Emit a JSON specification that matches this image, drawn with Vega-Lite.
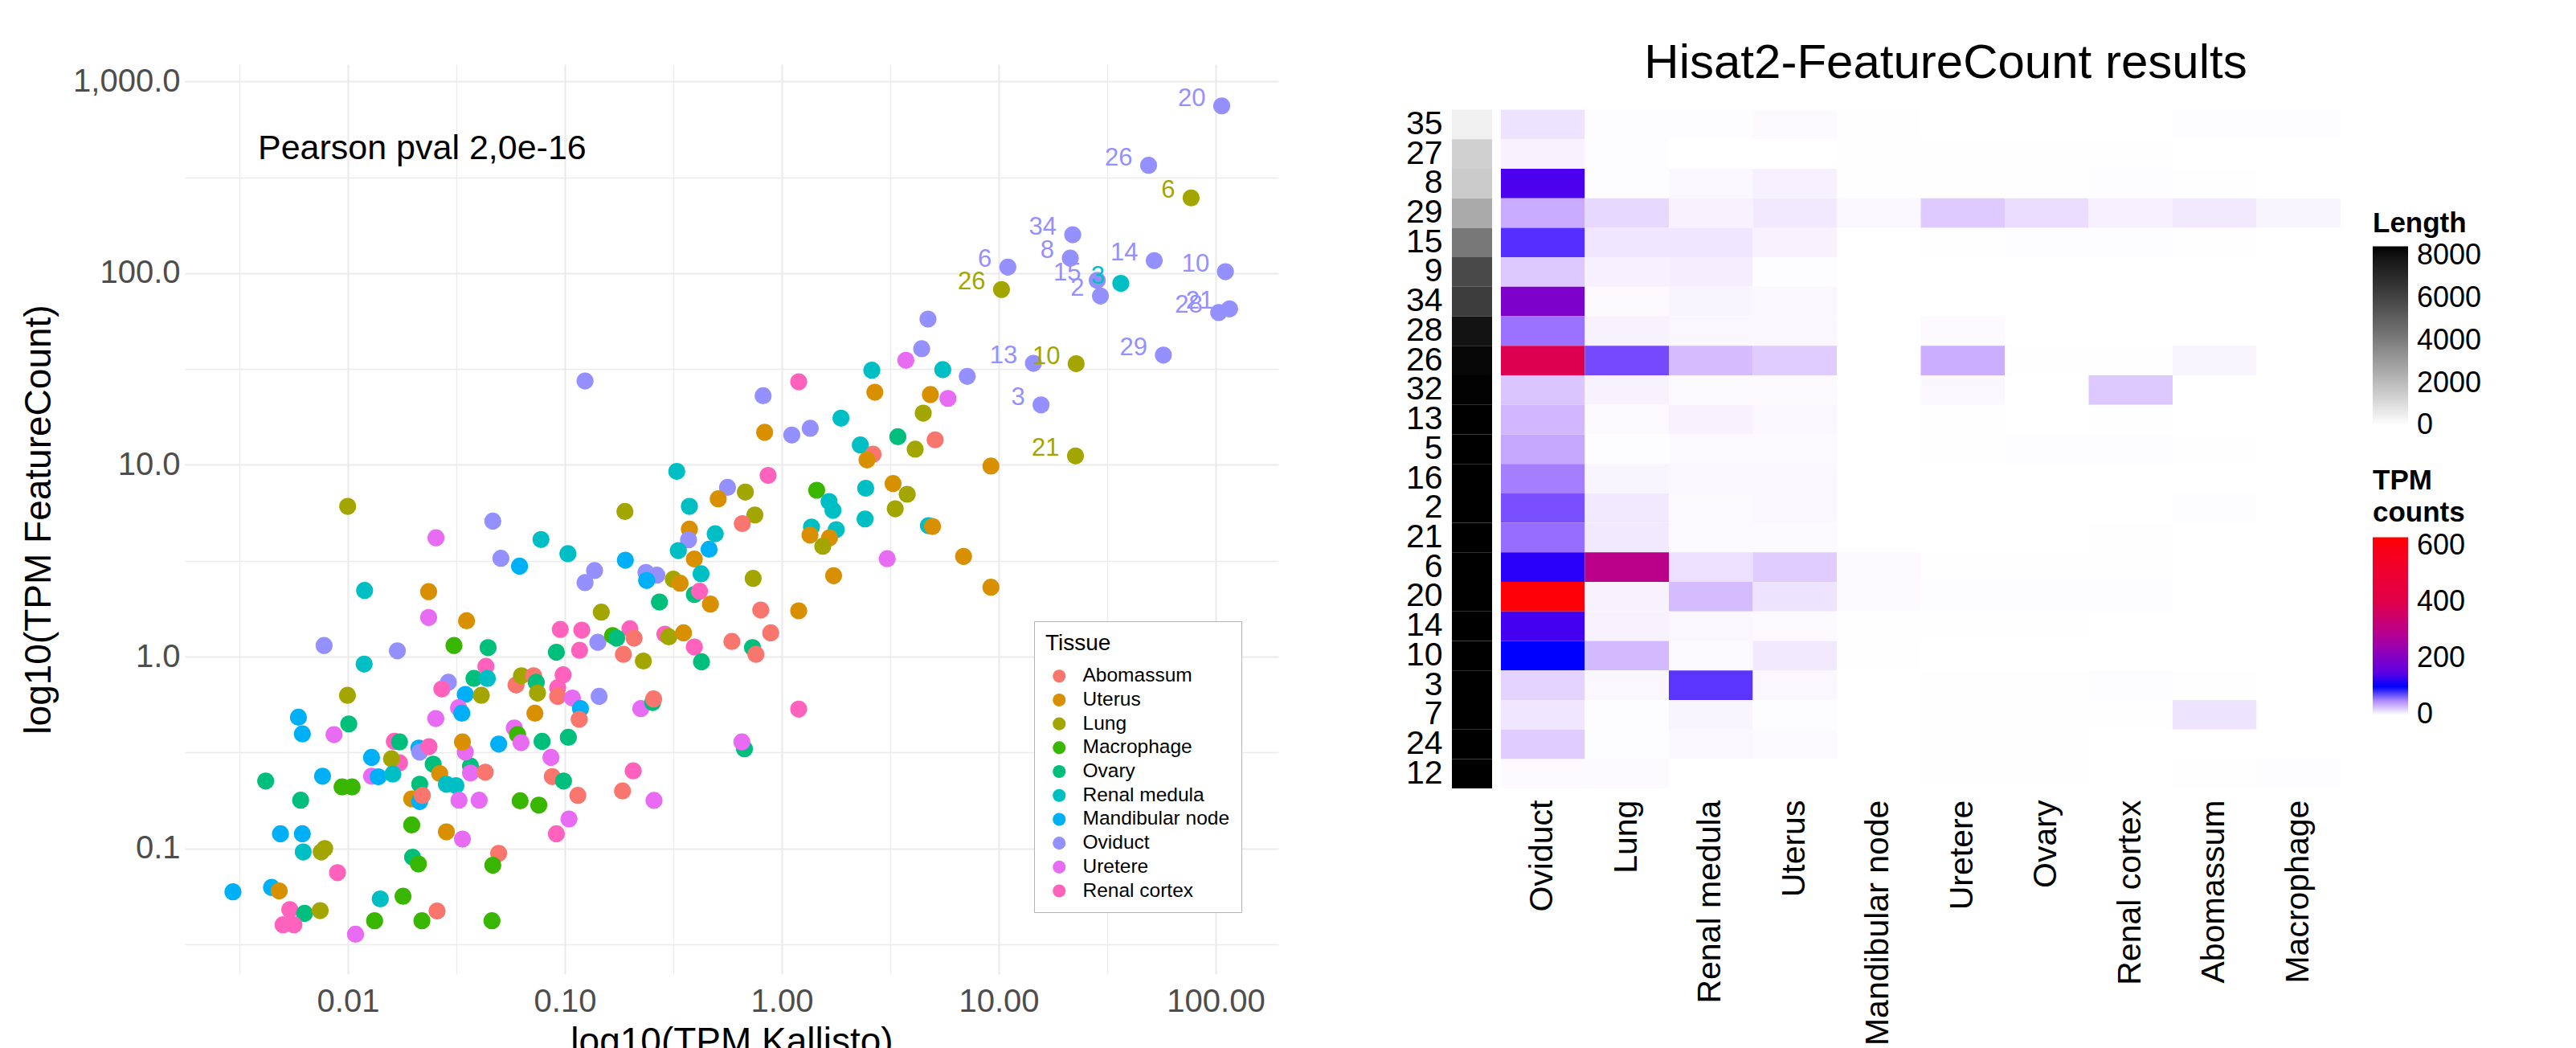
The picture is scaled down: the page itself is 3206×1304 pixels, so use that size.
{
"$schema": "https://vega.github.io/schema/vega-lite/v6.json",
"background": "white",
"padding": {"left": 25, "top": 49, "right": 0, "bottom": 0},
"config": {"view": {"stroke": null}, "font": "Liberation Sans"},
"spacing": 158,
"datasets": {
"points": [
{"tissue":"Oviduct","kallisto":2.028,"featurecount":2.873,"label":"20"},
{"tissue":"Oviduct","kallisto":1.691,"featurecount":2.563,"label":"26"},
{"tissue":"Lung","kallisto":1.887,"featurecount":2.393,"label":"6"},
{"tissue":"Oviduct","kallisto":1.341,"featurecount":2.201,"label":"34"},
{"tissue":"Oviduct","kallisto":1.330,"featurecount":2.079,"label":"8"},
{"tissue":"Oviduct","kallisto":1.042,"featurecount":2.032,"label":"6"},
{"tissue":"Oviduct","kallisto":1.717,"featurecount":2.066,"label":"14"},
{"tissue":"Oviduct","kallisto":2.045,"featurecount":2.008,"label":"10"},
{"tissue":"Lung","kallisto":1.013,"featurecount":1.915,"label":"26"},
{"tissue":"Oviduct","kallisto":1.454,"featurecount":1.963,"label":"15"},
{"tissue":"Oviduct","kallisto":1.469,"featurecount":1.881,"label":"2"},
{"tissue":"Renal medula","kallisto":1.563,"featurecount":1.947,"label":"3"},
{"tissue":"Oviduct","kallisto":2.014,"featurecount":1.795,"label":"28"},
{"tissue":"Oviduct","kallisto":2.064,"featurecount":1.814,"label":"21"},
{"tissue":"Oviduct","kallisto":1.759,"featurecount":1.573,"label":"29"},
{"tissue":"Oviduct","kallisto":1.160,"featurecount":1.530,"label":"13"},
{"tissue":"Lung","kallisto":1.357,"featurecount":1.528,"label":"10"},
{"tissue":"Oviduct","kallisto":1.195,"featurecount":1.313,"label":"3"},
{"tissue":"Lung","kallisto":1.354,"featurecount":1.047,"label":"21"},
{"tissue":"Lung","kallisto":-2.001,"featurecount":0.784},
{"tissue":"Oviduct","kallisto":-1.332,"featurecount":0.707},
{"tissue":"Uretere","kallisto":-1.594,"featurecount":0.620},
{"tissue":"Renal medula","kallisto":-1.110,"featurecount":0.611},
{"tissue":"Oviduct","kallisto":-1.295,"featurecount":0.513},
{"tissue":"Mandibular node","kallisto":-1.209,"featurecount":0.472},
{"tissue":"Renal medula","kallisto":-1.923,"featurecount":0.345},
{"tissue":"Uterus","kallisto":-1.628,"featurecount":0.339},
{"tissue":"Uretere","kallisto":-1.628,"featurecount":0.204},
{"tissue":"Uterus","kallisto":-1.453,"featurecount":0.187},
{"tissue":"Oviduct","kallisto":-0.907,"featurecount":1.438},
{"tissue":"Renal cortex","kallisto":0.078,"featurecount":1.434},
{"tissue":"Oviduct","kallisto":-0.086,"featurecount":1.361},
{"tissue":"Renal medula","kallisto":0.415,"featurecount":1.494},
{"tissue":"Uterus","kallisto":0.429,"featurecount":1.379},
{"tissue":"Uretere","kallisto":0.572,"featurecount":1.546},
{"tissue":"Uterus","kallisto":-0.079,"featurecount":1.170},
{"tissue":"Oviduct","kallisto":0.046,"featurecount":1.156},
{"tissue":"Oviduct","kallisto":0.131,"featurecount":1.191},
{"tissue":"Renal medula","kallisto":0.273,"featurecount":1.244},
{"tissue":"Renal medula","kallisto":0.362,"featurecount":1.104},
{"tissue":"Ovary","kallisto":0.535,"featurecount":1.147},
{"tissue":"Abomassum","kallisto":0.421,"featurecount":1.056},
{"tissue":"Uterus","kallisto":0.393,"featurecount":1.026},
{"tissue":"Renal medula","kallisto":-0.484,"featurecount":0.966},
{"tissue":"Renal cortex","kallisto":-0.063,"featurecount":0.945},
{"tissue":"Oviduct","kallisto":-0.250,"featurecount":0.883},
{"tissue":"Lung","kallisto":-0.168,"featurecount":0.858},
{"tissue":"Uterus","kallisto":-0.293,"featurecount":0.823},
{"tissue":"Renal medula","kallisto":-0.426,"featurecount":0.784},
{"tissue":"Lung","kallisto":-0.723,"featurecount":0.757},
{"tissue":"Lung","kallisto":-0.124,"featurecount":0.739},
{"tissue":"Abomassum","kallisto":-0.182,"featurecount":0.694},
{"tissue":"Macrophage","kallisto":0.161,"featurecount":0.868},
{"tissue":"Renal medula","kallisto":0.218,"featurecount":0.809},
{"tissue":"Renal medula","kallisto":0.236,"featurecount":0.763},
{"tissue":"Renal medula","kallisto":0.387,"featurecount":0.878},
{"tissue":"Uterus","kallisto":0.513,"featurecount":0.903},
{"tissue":"Lung","kallisto":0.578,"featurecount":0.847},
{"tissue":"Lung","kallisto":0.523,"featurecount":0.771},
{"tissue":"Renal medula","kallisto":0.384,"featurecount":0.718},
{"tissue":"Renal medula","kallisto":0.137,"featurecount":0.676},
{"tissue":"Uterus","kallisto":0.130,"featurecount":0.634},
{"tissue":"Renal medula","kallisto":0.251,"featurecount":0.662},
{"tissue":"Uterus","kallisto":0.220,"featurecount":0.620},
{"tissue":"Lung","kallisto":0.189,"featurecount":0.576},
{"tissue":"Uretere","kallisto":0.486,"featurecount":0.511},
{"tissue":"Uterus","kallisto":0.239,"featurecount":0.422},
{"tissue":"Lung","kallisto":-0.132,"featurecount":0.408},
{"tissue":"Renal medula","kallisto":-0.986,"featurecount":0.537},
{"tissue":"Mandibular node","kallisto":-0.721,"featurecount":0.503},
{"tissue":"Oviduct","kallisto":-0.863,"featurecount":0.449},
{"tissue":"Oviduct","kallisto":-0.907,"featurecount":0.386},
{"tissue":"Uterus","kallisto":-0.426,"featurecount":0.665},
{"tissue":"Oviduct","kallisto":-0.430,"featurecount":0.609},
{"tissue":"Renal medula","kallisto":-0.307,"featurecount":0.641},
{"tissue":"Renal medula","kallisto":-0.477,"featurecount":0.553},
{"tissue":"Mandibular node","kallisto":-0.335,"featurecount":0.560},
{"tissue":"Uterus","kallisto":-0.403,"featurecount":0.509},
{"tissue":"Renal medula","kallisto":-0.372,"featurecount":0.432},
{"tissue":"Oviduct","kallisto":-0.626,"featurecount":0.439},
{"tissue":"Oviduct","kallisto":-0.576,"featurecount":0.425},
{"tissue":"Mandibular node","kallisto":-0.623,"featurecount":0.397},
{"tissue":"Lung","kallisto":-0.500,"featurecount":0.404},
{"tissue":"Uterus","kallisto":-0.469,"featurecount":0.383},
{"tissue":"Ovary","kallisto":-0.564,"featurecount":0.285},
{"tissue":"Ovary","kallisto":-0.403,"featurecount":0.324},
{"tissue":"Renal cortex","kallisto":-0.379,"featurecount":0.341},
{"tissue":"Uterus","kallisto":-0.329,"featurecount":0.274},
{"tissue":"Lung","kallisto":-0.832,"featurecount":0.232},
{"tissue":"Abomassum","kallisto":-0.097,"featurecount":0.243},
{"tissue":"Uterus","kallisto":0.078,"featurecount":0.239},
{"tissue":"Oviduct","kallisto":0.674,"featurecount":1.761},
{"tissue":"Oviduct","kallisto":0.645,"featurecount":1.606},
{"tissue":"Renal medula","kallisto":0.742,"featurecount":1.497},
{"tissue":"Oviduct","kallisto":0.855,"featurecount":1.462},
{"tissue":"Uterus","kallisto":0.685,"featurecount":1.367},
{"tissue":"Uretere","kallisto":0.766,"featurecount":1.347},
{"tissue":"Lung","kallisto":0.652,"featurecount":1.270},
{"tissue":"Abomassum","kallisto":0.707,"featurecount":1.131},
{"tissue":"Lung","kallisto":0.615,"featurecount":1.082},
{"tissue":"Uterus","kallisto":0.964,"featurecount":0.994},
{"tissue":"Renal medula","kallisto":0.676,"featurecount":0.683},
{"tissue":"Uterus","kallisto":0.695,"featurecount":0.679},
{"tissue":"Uterus","kallisto":0.838,"featurecount":0.523},
{"tissue":"Uterus","kallisto":0.964,"featurecount":0.362},
{"tissue":"Oviduct","kallisto":-2.110,"featurecount":0.058},
{"tissue":"Oviduct","kallisto":-1.772,"featurecount":0.030},
{"tissue":"Renal medula","kallisto":-1.925,"featurecount":-0.039},
{"tissue":"Macrophage","kallisto":-1.511,"featurecount":0.058},
{"tissue":"Ovary","kallisto":-1.354,"featurecount":0.047},
{"tissue":"Renal cortex","kallisto":-1.364,"featurecount":-0.051},
{"tissue":"Oviduct","kallisto":-1.537,"featurecount":-0.134},
{"tissue":"Renal cortex","kallisto":-1.567,"featurecount":-0.169},
{"tissue":"Ovary","kallisto":-1.419,"featurecount":-0.114},
{"tissue":"Renal medula","kallisto":-1.357,"featurecount":-0.114},
{"tissue":"Mandibular node","kallisto":-1.459,"featurecount":-0.197},
{"tissue":"Lung","kallisto":-1.385,"featurecount":-0.202},
{"tissue":"Uretere","kallisto":-1.490,"featurecount":-0.267},
{"tissue":"Mandibular node","kallisto":-1.475,"featurecount":-0.295},
{"tissue":"Uretere","kallisto":-1.595,"featurecount":-0.323},
{"tissue":"Lung","kallisto":-2.002,"featurecount":-0.202},
{"tissue":"Ovary","kallisto":-1.996,"featurecount":-0.351},
{"tissue":"Mandibular node","kallisto":-2.228,"featurecount":-0.316},
{"tissue":"Mandibular node","kallisto":-2.210,"featurecount":-0.403},
{"tissue":"Uretere","kallisto":-2.064,"featurecount":-0.407},
{"tissue":"Abomassum","kallisto":-1.225,"featurecount":-0.148},
{"tissue":"Lung","kallisto":-1.200,"featurecount":-0.100},
{"tissue":"Abomassum","kallisto":-1.144,"featurecount":-0.100},
{"tissue":"Ovary","kallisto":-1.132,"featurecount":-0.134},
{"tissue":"Lung","kallisto":-1.126,"featurecount":-0.190},
{"tissue":"Uterus","kallisto":-1.138,"featurecount":-0.295},
{"tissue":"Uretere","kallisto":-1.233,"featurecount":-0.372},
{"tissue":"Macrophage","kallisto":-1.218,"featurecount":-0.407},
{"tissue":"Uretere","kallisto":-1.202,"featurecount":-0.449},
{"tissue":"Mandibular node","kallisto":-1.305,"featurecount":-0.456},
{"tissue":"Ovary","kallisto":-1.105,"featurecount":-0.442},
{"tissue":"Renal cortex","kallisto":-1.786,"featurecount":-0.442},
{"tissue":"Ovary","kallisto":-1.762,"featurecount":-0.445},
{"tissue":"Mandibular node","kallisto":-1.673,"featurecount":-0.477},
{"tissue":"Oviduct","kallisto":-1.669,"featurecount":-0.498},
{"tissue":"Renal cortex","kallisto":-1.626,"featurecount":-0.470},
{"tissue":"Ovary","kallisto":-1.607,"featurecount":-0.561},
{"tissue":"Uterus","kallisto":-1.577,"featurecount":-0.610},
{"tissue":"Renal medula","kallisto":-1.546,"featurecount":-0.666},
{"tissue":"Renal medula","kallisto":-1.502,"featurecount":-0.673},
{"tissue":"Ovary","kallisto":-1.435,"featurecount":-0.571},
{"tissue":"Uretere","kallisto":-1.459,"featurecount":-0.498},
{"tissue":"Uretere","kallisto":-1.435,"featurecount":-0.607},
{"tissue":"Abomassum","kallisto":-1.367,"featurecount":-0.603},
{"tissue":"Uterus","kallisto":-1.472,"featurecount":-0.445},
{"tissue":"Renal cortex","kallisto":-1.762,"featurecount":-0.554},
{"tissue":"Lung","kallisto":-1.799,"featurecount":-0.533},
{"tissue":"Uretere","kallisto":-1.891,"featurecount":-0.624},
{"tissue":"Mandibular node","kallisto":-1.860,"featurecount":-0.627},
{"tissue":"Renal medula","kallisto":-1.793,"featurecount":-0.613},
{"tissue":"Mandibular node","kallisto":-1.891,"featurecount":-0.526},
{"tissue":"Ovary","kallisto":-1.669,"featurecount":-0.666},
{"tissue":"Uterus","kallisto":-1.706,"featurecount":-0.742},
{"tissue":"Mandibular node","kallisto":-1.669,"featurecount":-0.756},
{"tissue":"Abomassum","kallisto":-1.657,"featurecount":-0.724},
{"tissue":"Uretere","kallisto":-1.488,"featurecount":-0.749},
{"tissue":"Uretere","kallisto":-1.395,"featurecount":-0.749},
{"tissue":"Macrophage","kallisto":-1.206,"featurecount":-0.752},
{"tissue":"Macrophage","kallisto":-1.120,"featurecount":-0.775},
{"tissue":"Mandibular node","kallisto":-2.117,"featurecount":-0.624},
{"tissue":"Macrophage","kallisto":-2.027,"featurecount":-0.680},
{"tissue":"Macrophage","kallisto":-1.981,"featurecount":-0.680},
{"tissue":"Ovary","kallisto":-2.379,"featurecount":-0.649},
{"tissue":"Ovary","kallisto":-2.218,"featurecount":-0.749},
{"tissue":"Macrophage","kallisto":-1.706,"featurecount":-0.878},
{"tissue":"Uterus","kallisto":-1.546,"featurecount":-0.914},
{"tissue":"Uretere","kallisto":-1.472,"featurecount":-0.952},
{"tissue":"Abomassum","kallisto":-1.305,"featurecount":-1.026},
{"tissue":"Macrophage","kallisto":-1.332,"featurecount":-1.088},
{"tissue":"Ovary","kallisto":-1.702,"featurecount":-1.046},
{"tissue":"Macrophage","kallisto":-1.675,"featurecount":-1.082},
{"tissue":"Mandibular node","kallisto":-2.311,"featurecount":-0.924},
{"tissue":"Mandibular node","kallisto":-2.210,"featurecount":-0.924},
{"tissue":"Renal medula","kallisto":-2.206,"featurecount":-1.019},
{"tissue":"Lung","kallisto":-2.123,"featurecount":-1.019},
{"tissue":"Lung","kallisto":-2.107,"featurecount":-1.001},
{"tissue":"Renal cortex","kallisto":-2.048,"featurecount":-1.127},
{"tissue":"Mandibular node","kallisto":-2.530,"featurecount":-1.227},
{"tissue":"Mandibular node","kallisto":-2.352,"featurecount":-1.204},
{"tissue":"Uterus","kallisto":-2.317,"featurecount":-1.222},
{"tissue":"Renal cortex","kallisto":-2.268,"featurecount":-1.320},
{"tissue":"Ovary","kallisto":-2.200,"featurecount":-1.339},
{"tissue":"Lung","kallisto":-2.128,"featurecount":-1.325},
{"tissue":"Renal cortex","kallisto":-2.299,"featurecount":-1.399},
{"tissue":"Renal cortex","kallisto":-2.249,"featurecount":-1.399},
{"tissue":"Uretere","kallisto":-1.965,"featurecount":-1.448},
{"tissue":"Renal medula","kallisto":-1.851,"featurecount":-1.264},
{"tissue":"Macrophage","kallisto":-1.746,"featurecount":-1.250},
{"tissue":"Macrophage","kallisto":-1.877,"featurecount":-1.378},
{"tissue":"Macrophage","kallisto":-1.659,"featurecount":-1.378},
{"tissue":"Abomassum","kallisto":-1.589,"featurecount":-1.327},
{"tissue":"Macrophage","kallisto":-1.336,"featurecount":-1.378},
{"tissue":"Renal cortex","kallisto":-1.021,"featurecount":0.142},
{"tissue":"Renal cortex","kallisto":-0.922,"featurecount":0.138},
{"tissue":"Renal cortex","kallisto":-0.700,"featurecount":0.145},
{"tissue":"Ovary","kallisto":-1.039,"featurecount":0.023},
{"tissue":"Renal cortex","kallisto":-0.932,"featurecount":0.033},
{"tissue":"Oviduct","kallisto":-0.848,"featurecount":0.075},
{"tissue":"Macrophage","kallisto":-0.780,"featurecount":0.110},
{"tissue":"Ovary","kallisto":-0.761,"featurecount":0.096},
{"tissue":"Abomassum","kallisto":-0.681,"featurecount":0.096},
{"tissue":"Abomassum","kallisto":-0.730,"featurecount":0.012},
{"tissue":"Lung","kallisto":-0.638,"featurecount":-0.023},
{"tissue":"Renal cortex","kallisto":-0.539,"featurecount":0.117},
{"tissue":"Lung","kallisto":-0.521,"featurecount":0.103},
{"tissue":"Uterus","kallisto":-0.453,"featurecount":0.124},
{"tissue":"Renal cortex","kallisto":-0.403,"featurecount":0.050},
{"tissue":"Ovary","kallisto":-0.370,"featurecount":-0.027},
{"tissue":"Abomassum","kallisto":-0.230,"featurecount":0.079},
{"tissue":"Ovary","kallisto":-0.135,"featurecount":0.047},
{"tissue":"Abomassum","kallisto":-0.119,"featurecount":0.012},
{"tissue":"Abomassum","kallisto":-0.051,"featurecount":0.124},
{"tissue":"Renal cortex","kallisto":-1.008,"featurecount":-0.095},
{"tissue":"Renal cortex","kallisto":-1.033,"featurecount":-0.162},
{"tissue":"Abomassum","kallisto":-1.033,"featurecount":-0.207},
{"tissue":"Uretere","kallisto":-0.965,"featurecount":-0.216},
{"tissue":"Oviduct","kallisto":-0.842,"featurecount":-0.207},
{"tissue":"Mandibular node","kallisto":-0.928,"featurecount":-0.271},
{"tissue":"Abomassum","kallisto":-0.934,"featurecount":-0.327},
{"tissue":"Ovary","kallisto":-0.984,"featurecount":-0.421},
{"tissue":"Uretere","kallisto":-0.650,"featurecount":-0.271},
{"tissue":"Ovary","kallisto":-0.595,"featurecount":-0.239},
{"tissue":"Abomassum","kallisto":-0.591,"featurecount":-0.221},
{"tissue":"Renal cortex","kallisto":0.078,"featurecount":-0.274},
{"tissue":"Ovary","kallisto":-0.172,"featurecount":-0.481},
{"tissue":"Uretere","kallisto":-0.184,"featurecount":-0.445},
{"tissue":"Uretere","kallisto":-1.064,"featurecount":-0.526},
{"tissue":"Abomassum","kallisto":-1.058,"featurecount":-0.626},
{"tissue":"Ovary","kallisto":-1.006,"featurecount":-0.649},
{"tissue":"Renal cortex","kallisto":-0.685,"featurecount":-0.596},
{"tissue":"Abomassum","kallisto":-0.734,"featurecount":-0.701},
{"tissue":"Abomassum","kallisto":-0.940,"featurecount":-0.724},
{"tissue":"Uretere","kallisto":-0.589,"featurecount":-0.750},
{"tissue":"Uretere","kallisto":-0.981,"featurecount":-0.847},
{"tissue":"Renal cortex","kallisto":-1.039,"featurecount":-0.924}
],
"note": [{"text":"Pearson pval 2,0e-16","kallisto":-2.415,"featurecount":2.65}],
"lengths": [
{"gene":"35","length":440},{"gene":"27","length":1390},{"gene":"8","length":1550},{"gene":"29","length":2570},{"gene":"15","length":4170},{"gene":"9","length":5800},{"gene":"34","length":6310},{"gene":"28","length":7940},{"gene":"26","length":8300},{"gene":"32","length":8400},{"gene":"13","length":8435},{"gene":"5","length":8435},{"gene":"16","length":8435},{"gene":"2","length":8435},{"gene":"21","length":8435},{"gene":"6","length":8435},{"gene":"20","length":8435},{"gene":"14","length":8435},{"gene":"10","length":8435},{"gene":"3","length":8435},{"gene":"7","length":8435},{"gene":"24","length":8435},{"gene":"12","length":8435}
],
"heat": [
{"gene":"35","tissue":"Oviduct","tpm":11},{"gene":"35","tissue":"Lung","tpm":1},{"gene":"35","tissue":"Renal medula","tpm":1},{"gene":"35","tissue":"Uterus","tpm":2},{"gene":"35","tissue":"Mandibular node","tpm":0.3},{"gene":"35","tissue":"Uretere","tpm":0},{"gene":"35","tissue":"Ovary","tpm":0},{"gene":"35","tissue":"Renal cortex","tpm":0},{"gene":"35","tissue":"Abomassum","tpm":1},{"gene":"35","tissue":"Macrophage","tpm":1},
{"gene":"27","tissue":"Oviduct","tpm":5},{"gene":"27","tissue":"Lung","tpm":1},{"gene":"27","tissue":"Renal medula","tpm":0},{"gene":"27","tissue":"Uterus","tpm":0},{"gene":"27","tissue":"Mandibular node","tpm":0.3},{"gene":"27","tissue":"Uretere","tpm":0.3},{"gene":"27","tissue":"Ovary","tpm":0.5},{"gene":"27","tissue":"Renal cortex","tpm":0.3},{"gene":"27","tissue":"Abomassum","tpm":0},{"gene":"27","tissue":"Macrophage","tpm":0},
{"gene":"8","tissue":"Oviduct","tpm":130},{"gene":"8","tissue":"Lung","tpm":1},{"gene":"8","tissue":"Renal medula","tpm":3},{"gene":"8","tissue":"Uterus","tpm":6},{"gene":"8","tissue":"Mandibular node","tpm":0.5},{"gene":"8","tissue":"Uretere","tpm":0.3},{"gene":"8","tissue":"Ovary","tpm":0.5},{"gene":"8","tissue":"Renal cortex","tpm":1},{"gene":"8","tissue":"Abomassum","tpm":0.3},{"gene":"8","tissue":"Macrophage","tpm":0},
{"gene":"29","tissue":"Oviduct","tpm":35},{"gene":"29","tissue":"Lung","tpm":16},{"gene":"29","tissue":"Renal medula","tpm":5},{"gene":"29","tissue":"Uterus","tpm":9},{"gene":"29","tissue":"Mandibular node","tpm":3},{"gene":"29","tissue":"Uretere","tpm":22},{"gene":"29","tissue":"Ovary","tpm":14},{"gene":"29","tissue":"Renal cortex","tpm":6},{"gene":"29","tissue":"Abomassum","tpm":9},{"gene":"29","tissue":"Macrophage","tpm":4},
{"gene":"15","tissue":"Oviduct","tpm":88},{"gene":"15","tissue":"Lung","tpm":10},{"gene":"15","tissue":"Renal medula","tpm":10},{"gene":"15","tissue":"Uterus","tpm":5},{"gene":"15","tissue":"Mandibular node","tpm":0},{"gene":"15","tissue":"Uretere","tpm":0.5},{"gene":"15","tissue":"Ovary","tpm":1},{"gene":"15","tissue":"Renal cortex","tpm":1},{"gene":"15","tissue":"Abomassum","tpm":0.5},{"gene":"15","tissue":"Macrophage","tpm":0},
{"gene":"9","tissue":"Oviduct","tpm":23},{"gene":"9","tissue":"Lung","tpm":6},{"gene":"9","tissue":"Renal medula","tpm":7},{"gene":"9","tissue":"Uterus","tpm":1},{"gene":"9","tissue":"Mandibular node","tpm":0},{"gene":"9","tissue":"Uretere","tpm":0},{"gene":"9","tissue":"Ovary","tpm":0},{"gene":"9","tissue":"Renal cortex","tpm":0},{"gene":"9","tissue":"Abomassum","tpm":0},{"gene":"9","tissue":"Macrophage","tpm":0},
{"gene":"34","tissue":"Oviduct","tpm":194},{"gene":"34","tissue":"Lung","tpm":2},{"gene":"34","tissue":"Renal medula","tpm":4},{"gene":"34","tissue":"Uterus","tpm":3},{"gene":"34","tissue":"Mandibular node","tpm":0},{"gene":"34","tissue":"Uretere","tpm":0},{"gene":"34","tissue":"Ovary","tpm":0},{"gene":"34","tissue":"Renal cortex","tpm":0},{"gene":"34","tissue":"Abomassum","tpm":0},{"gene":"34","tissue":"Macrophage","tpm":0},
{"gene":"28","tissue":"Oviduct","tpm":60},{"gene":"28","tissue":"Lung","tpm":5},{"gene":"28","tissue":"Renal medula","tpm":3},{"gene":"28","tissue":"Uterus","tpm":3},{"gene":"28","tissue":"Mandibular node","tpm":0},{"gene":"28","tissue":"Uretere","tpm":2},{"gene":"28","tissue":"Ovary","tpm":0},{"gene":"28","tissue":"Renal cortex","tpm":0},{"gene":"28","tissue":"Abomassum","tpm":0},{"gene":"28","tissue":"Macrophage","tpm":0},
{"gene":"26","tissue":"Oviduct","tpm":390},{"gene":"26","tissue":"Lung","tpm":77},{"gene":"26","tissue":"Renal medula","tpm":28},{"gene":"26","tissue":"Uterus","tpm":21},{"gene":"26","tissue":"Mandibular node","tpm":0},{"gene":"26","tissue":"Uretere","tpm":34},{"gene":"26","tissue":"Ovary","tpm":0.5},{"gene":"26","tissue":"Renal cortex","tpm":0.5},{"gene":"26","tissue":"Abomassum","tpm":4},{"gene":"26","tissue":"Macrophage","tpm":0},
{"gene":"32","tissue":"Oviduct","tpm":24},{"gene":"32","tissue":"Lung","tpm":5},{"gene":"32","tissue":"Renal medula","tpm":2},{"gene":"32","tissue":"Uterus","tpm":2},{"gene":"32","tissue":"Mandibular node","tpm":0},{"gene":"32","tissue":"Uretere","tpm":3},{"gene":"32","tissue":"Ovary","tpm":0},{"gene":"32","tissue":"Renal cortex","tpm":23},{"gene":"32","tissue":"Abomassum","tpm":0},{"gene":"32","tissue":"Macrophage","tpm":0},
{"gene":"13","tissue":"Oviduct","tpm":30},{"gene":"13","tissue":"Lung","tpm":2},{"gene":"13","tissue":"Renal medula","tpm":5},{"gene":"13","tissue":"Uterus","tpm":3},{"gene":"13","tissue":"Mandibular node","tpm":0},{"gene":"13","tissue":"Uretere","tpm":0.5},{"gene":"13","tissue":"Ovary","tpm":0},{"gene":"13","tissue":"Renal cortex","tpm":0.3},{"gene":"13","tissue":"Abomassum","tpm":0},{"gene":"13","tissue":"Macrophage","tpm":0},
{"gene":"5","tissue":"Oviduct","tpm":37},{"gene":"5","tissue":"Lung","tpm":1},{"gene":"5","tissue":"Renal medula","tpm":2},{"gene":"5","tissue":"Uterus","tpm":2},{"gene":"5","tissue":"Mandibular node","tpm":0},{"gene":"5","tissue":"Uretere","tpm":0.3},{"gene":"5","tissue":"Ovary","tpm":1},{"gene":"5","tissue":"Renal cortex","tpm":1},{"gene":"5","tissue":"Abomassum","tpm":0.5},{"gene":"5","tissue":"Macrophage","tpm":0},
{"gene":"16","tissue":"Oviduct","tpm":55},{"gene":"16","tissue":"Lung","tpm":4},{"gene":"16","tissue":"Renal medula","tpm":3},{"gene":"16","tissue":"Uterus","tpm":3},{"gene":"16","tissue":"Mandibular node","tpm":0},{"gene":"16","tissue":"Uretere","tpm":0},{"gene":"16","tissue":"Ovary","tpm":0},{"gene":"16","tissue":"Renal cortex","tpm":0},{"gene":"16","tissue":"Abomassum","tpm":0},{"gene":"16","tissue":"Macrophage","tpm":0},
{"gene":"2","tissue":"Oviduct","tpm":75},{"gene":"2","tissue":"Lung","tpm":9},{"gene":"2","tissue":"Renal medula","tpm":2},{"gene":"2","tissue":"Uterus","tpm":3},{"gene":"2","tissue":"Mandibular node","tpm":0},{"gene":"2","tissue":"Uretere","tpm":0},{"gene":"2","tissue":"Ovary","tpm":0},{"gene":"2","tissue":"Renal cortex","tpm":0},{"gene":"2","tissue":"Abomassum","tpm":1},{"gene":"2","tissue":"Macrophage","tpm":0},
{"gene":"21","tissue":"Oviduct","tpm":62},{"gene":"21","tissue":"Lung","tpm":9},{"gene":"21","tissue":"Renal medula","tpm":2},{"gene":"21","tissue":"Uterus","tpm":2},{"gene":"21","tissue":"Mandibular node","tpm":0},{"gene":"21","tissue":"Uretere","tpm":0},{"gene":"21","tissue":"Ovary","tpm":0},{"gene":"21","tissue":"Renal cortex","tpm":0.3},{"gene":"21","tissue":"Abomassum","tpm":0},{"gene":"21","tissue":"Macrophage","tpm":0},
{"gene":"6","tissue":"Oviduct","tpm":110},{"gene":"6","tissue":"Lung","tpm":300},{"gene":"6","tissue":"Renal medula","tpm":13},{"gene":"6","tissue":"Uterus","tpm":21},{"gene":"6","tissue":"Mandibular node","tpm":2},{"gene":"6","tissue":"Uretere","tpm":0.5},{"gene":"6","tissue":"Ovary","tpm":0.3},{"gene":"6","tissue":"Renal cortex","tpm":0.3},{"gene":"6","tissue":"Abomassum","tpm":0},{"gene":"6","tissue":"Macrophage","tpm":0},
{"gene":"20","tissue":"Oviduct","tpm":620},{"gene":"20","tissue":"Lung","tpm":5},{"gene":"20","tissue":"Renal medula","tpm":28},{"gene":"20","tissue":"Uterus","tpm":11},{"gene":"20","tissue":"Mandibular node","tpm":2},{"gene":"20","tissue":"Uretere","tpm":1},{"gene":"20","tissue":"Ovary","tpm":1},{"gene":"20","tissue":"Renal cortex","tpm":1},{"gene":"20","tissue":"Abomassum","tpm":0},{"gene":"20","tissue":"Macrophage","tpm":0},
{"gene":"14","tissue":"Oviduct","tpm":125},{"gene":"14","tissue":"Lung","tpm":5},{"gene":"14","tissue":"Renal medula","tpm":3},{"gene":"14","tissue":"Uterus","tpm":2},{"gene":"14","tissue":"Mandibular node","tpm":0.5},{"gene":"14","tissue":"Uretere","tpm":0.5},{"gene":"14","tissue":"Ovary","tpm":0.3},{"gene":"14","tissue":"Renal cortex","tpm":0},{"gene":"14","tissue":"Abomassum","tpm":0},{"gene":"14","tissue":"Macrophage","tpm":0},
{"gene":"10","tissue":"Oviduct","tpm":100},{"gene":"10","tissue":"Lung","tpm":29},{"gene":"10","tissue":"Renal medula","tpm":2},{"gene":"10","tissue":"Uterus","tpm":9},{"gene":"10","tissue":"Mandibular node","tpm":0.5},{"gene":"10","tissue":"Uretere","tpm":0},{"gene":"10","tissue":"Ovary","tpm":0},{"gene":"10","tissue":"Renal cortex","tpm":0},{"gene":"10","tissue":"Abomassum","tpm":0},{"gene":"10","tissue":"Macrophage","tpm":0},
{"gene":"3","tissue":"Oviduct","tpm":18},{"gene":"3","tissue":"Lung","tpm":3},{"gene":"3","tissue":"Renal medula","tpm":86},{"gene":"3","tissue":"Uterus","tpm":3},{"gene":"3","tissue":"Mandibular node","tpm":0},{"gene":"3","tissue":"Uretere","tpm":0.5},{"gene":"3","tissue":"Ovary","tpm":0.5},{"gene":"3","tissue":"Renal cortex","tpm":1},{"gene":"3","tissue":"Abomassum","tpm":0.3},{"gene":"3","tissue":"Macrophage","tpm":0},
{"gene":"7","tissue":"Oviduct","tpm":10},{"gene":"7","tissue":"Lung","tpm":1},{"gene":"7","tissue":"Renal medula","tpm":4},{"gene":"7","tissue":"Uterus","tpm":1},{"gene":"7","tissue":"Mandibular node","tpm":0},{"gene":"7","tissue":"Uretere","tpm":0.3},{"gene":"7","tissue":"Ovary","tpm":0.3},{"gene":"7","tissue":"Renal cortex","tpm":0.3},{"gene":"7","tissue":"Abomassum","tpm":11},{"gene":"7","tissue":"Macrophage","tpm":0},
{"gene":"24","tissue":"Oviduct","tpm":21},{"gene":"24","tissue":"Lung","tpm":1},{"gene":"24","tissue":"Renal medula","tpm":3},{"gene":"24","tissue":"Uterus","tpm":2},{"gene":"24","tissue":"Mandibular node","tpm":0},{"gene":"24","tissue":"Uretere","tpm":0.3},{"gene":"24","tissue":"Ovary","tpm":0.3},{"gene":"24","tissue":"Renal cortex","tpm":0},{"gene":"24","tissue":"Abomassum","tpm":0},{"gene":"24","tissue":"Macrophage","tpm":0},
{"gene":"12","tissue":"Oviduct","tpm":2},{"gene":"12","tissue":"Lung","tpm":2},{"gene":"12","tissue":"Renal medula","tpm":0},{"gene":"12","tissue":"Uterus","tpm":0},{"gene":"12","tissue":"Mandibular node","tpm":0},{"gene":"12","tissue":"Uretere","tpm":0.3},{"gene":"12","tissue":"Ovary","tpm":0.3},{"gene":"12","tissue":"Renal cortex","tpm":0},{"gene":"12","tissue":"Abomassum","tpm":0.5},{"gene":"12","tissue":"Macrophage","tpm":1}
]
},
"hconcat": [
{
"width": 1361, "height": 1132,
"layer": [
{
"data": {"name": "points"},
"mark": {"type": "circle", "size": 450, "opacity": 1},
"encoding": {
"x": {"field": "kallisto", "type": "quantitative", "title": "log10(TPM Kallisto)",
 "scale": {"domain": [-2.752, 2.289], "nice": false, "zero": false},
 "axis": {"values": [-2.5,-2,-1.5,-1,-0.5,0,0.5,1,1.5,2], "labelExpr": "datum.value % 1 == 0 ? format(pow(10, datum.value), ',.2f') : ''",
  "grid": true, "gridColor": "#EBEBEB", "gridWidth": {"condition": {"test": "datum.value % 1 == 0", "value": 2.2}, "value": 1.3},
  "domain": false, "ticks": false, "labelFontSize": 40, "labelColor": "#4D4D4D", "labelPadding": 14, "labelFlush": false, "labelOverlap": false,
  "titleFontSize": 46, "titleColor": "black", "titleFontWeight": "normal", "titlePadding": 8}},
"y": {"field": "featurecount", "type": "quantitative", "title": "log10(TPM FeatureCount)",
 "scale": {"domain": [-1.656, 3.090], "nice": false, "zero": false},
 "axis": {"values": [-1.5,-1,-0.5,0,0.5,1,1.5,2,2.5,3], "labelExpr": "datum.value % 1 == 0 ? format(pow(10, datum.value), ',.1f') : ''",
  "grid": true, "gridColor": "#EBEBEB", "gridWidth": {"condition": {"test": "datum.value % 1 == 0", "value": 2.2}, "value": 1.3},
  "domain": false, "ticks": false, "labelFontSize": 40, "labelColor": "#4D4D4D", "labelPadding": 6, "labelFlush": false, "labelOverlap": false,
  "titleFontSize": 46, "titleColor": "black", "titleFontWeight": "normal", "titlePadding": 18}},
"color": {"field": "tissue", "type": "nominal", "title": "Tissue",
 "scale": {"domain": ["Abomassum","Uterus","Lung","Macrophage","Ovary","Renal medula","Mandibular node","Oviduct","Uretere","Renal cortex"],
  "range": ["#F8766D","#D89000","#A3A500","#39B600","#00BF7D","#00BFC4","#00B0F6","#9590FF","#E76BF3","#FF62BC"]},
 "legend": {"orient": "none", "legendX": 1057, "legendY": 693, "symbolType": "circle", "symbolSize": 260, "symbolStrokeWidth": 0, "symbolOffset": 5,
  "labelFontSize": 24.5, "labelColor": "black", "labelOffset": 17, "labelLimit": 0, "titleFontSize": 28, "titleFontWeight": "normal", "titleColor": "black", "titlePadding": 14,
  "rowPadding": 4.7, "padding": 14, "strokeColor": "#B3B3B3", "fillColor": "white"}}
}
},
{
"data": {"name": "points"},
"transform": [{"filter": "datum.label != null"}],
"mark": {"type": "text", "align": "right", "baseline": "alphabetic", "dx": -20, "dy": 0, "fontSize": 31, "font": "Liberation Sans"},
"encoding": {
"x": {"field": "kallisto", "type": "quantitative"},
"y": {"field": "featurecount", "type": "quantitative"},
"text": {"field": "label"},
"fill": {"field": "tissue", "type": "nominal", "legend": null,
 "scale": {"domain": ["Abomassum","Uterus","Lung","Macrophage","Ovary","Renal medula","Mandibular node","Oviduct","Uretere","Renal cortex"],
  "range": ["#F8766D","#D89000","#A3A500","#39B600","#00BF7D","#00BFC4","#00B0F6","#9590FF","#E76BF3","#FF62BC"]}}
}
},
{
"data": {"name": "note"},
"mark": {"type": "text", "align": "left", "baseline": "middle", "fontSize": 43, "font": "Liberation Sans", "color": "black"},
"encoding": {
"x": {"field": "kallisto", "type": "quantitative"},
"y": {"field": "featurecount", "type": "quantitative"},
"text": {"field": "text"}
}
}
]
},
{
"width": 1045, "height": 901.1,
"title": {"text": "Hisat2-FeatureCount results", "anchor": "middle", "frame": "group", "dx": 31, "dy": 64, "fontSize": 60, "font": "Liberation Sans", "fontWeight": "normal", "color": "black", "offset": 34},
"layer": [
{
"data": {"name": "heat"},
"mark": {"type": "rect"},
"encoding": {
"x": {"field": "tissue", "type": "nominal", "title": null,
 "sort": ["Oviduct","Lung","Renal medula","Uterus","Mandibular node","Uretere","Ovary","Renal cortex","Abomassum","Macrophage"],
 "scale": {"paddingInner": 0, "paddingOuter": 0},
 "axis": {"labelAngle": -90, "labelFontSize": 41, "labelColor": "black", "labelPadding": 14, "labelLimit": 0, "domain": false, "ticks": false, "labelOverlap": false}},
"y": {"field": "gene", "type": "nominal", "title": null,
 "sort": ["35","27","8","29","15","9","34","28","26","32","13","5","16","2","21","6","20","14","10","3","7","24","12"],
 "scale": {"paddingInner": 0, "paddingOuter": 0.7693, "align": 1},
 "axis": {"offset": 61, "labelPadding": 12, "labelFontSize": 41, "labelColor": "black", "domain": false, "ticks": false, "labelOverlap": false}},
"color": {"field": "tpm", "type": "quantitative", "title": ["TPM", " counts"],
 "scale": {"domain": [-0.2, 100, 200, 400, 631], "range": ["#FFFFFF", "#0000FF", "#8000C8", "#E0004A", "#FF0000"], "interpolate": "lab"},
 "legend": {"orient": "none", "legendX": 1085, "legendY": 500.5, "direction": "vertical", "values": [0, 200, 400, 600], "format": "d", "labelOverlap": false,
  "gradientLength": 221, "gradientThickness": 44, "gradientStrokeWidth": 0, "labelFontSize": 36, "labelColor": "black", "labelOffset": 11,
  "titleFontSize": 35, "titleFontWeight": "bold", "titleColor": "black", "titlePadding": 13, "titleLineHeight": 40}}
}
},
{
"data": {"name": "lengths"},
"mark": {"type": "rect"},
"encoding": {
"x": {"datum": "Length", "type": "nominal", "scale": {"range": [-61, -11], "paddingInner": 0, "paddingOuter": 0}, "axis": null},
"y": {"field": "gene", "type": "nominal", "title": null,
 "sort": ["35","27","8","29","15","9","34","28","26","32","13","5","16","2","21","6","20","14","10","3","7","24","12"]},
"color": {"field": "length", "type": "quantitative", "title": "Length",
 "scale": {"domain": [-5, 8435], "range": ["#FFFFFF", "#000000"], "interpolate": "lab"},
 "legend": {"orient": "none", "legendX": 1085, "legendY": 180.5, "direction": "vertical", "values": [0, 2000, 4000, 6000, 8000], "format": "d", "labelOverlap": false,
  "gradientLength": 223, "gradientThickness": 44, "gradientStrokeWidth": 0, "labelFontSize": 36, "labelColor": "black", "labelOffset": 11,
  "titleFontSize": 35, "titleFontWeight": "bold", "titleColor": "black", "titlePadding": 11}}
}
}
],
"resolve": {"scale": {"x": "independent", "color": "independent"}}
}
]
}
